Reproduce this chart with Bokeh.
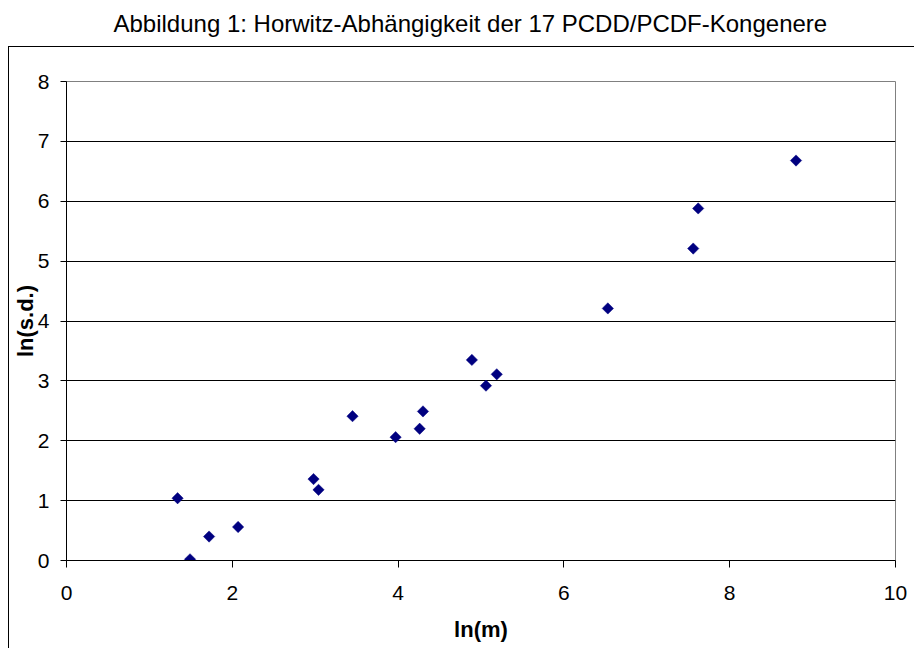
import numpy as np
from bokeh.plotting import figure
from bokeh.models import Range1d, FixedTicker, Title, ColumnDataSource
from bokeh.embed import file_html
from bokeh.resources import INLINE

# ---- data ----
title_text = "Abbildung 1: Horwitz-Abhängigkeit der 17 PCDD/PCDF-Kongenere"
x_label = "ln(m)"
y_label = "ln(s.d.)"
x_ticks = [0, 2, 4, 6, 8, 10]
y_ticks = [0, 1, 2, 3, 4, 5, 6, 7, 8]
ln_m = [1.34, 1.49, 1.72, 2.07, 2.98, 3.04, 3.45, 3.97, 4.26, 4.30,
        4.89, 5.06, 5.19, 6.53, 7.56, 7.62, 8.80]
ln_sd = [1.04, 0.02, 0.40, 0.56, 1.36, 1.18, 2.41, 2.06, 2.20, 2.49,
         3.35, 2.92, 3.11, 4.21, 5.21, 5.88, 6.68]

FONT = "Liberation Sans"

# outer chart-area border (left and top edges; right/bottom are cut off),
# painted as the page background behind a transparent border area
border_bg = ("linear-gradient(#000, #000) 8px 46px / 906px 1px no-repeat, "
             "linear-gradient(#000, #000) 8px 46px / 1px 602px no-repeat, "
             "#ffffff")

p = figure(width=914, height=648,
           x_range=Range1d(x_ticks[0], x_ticks[-1]),
           y_range=Range1d(y_ticks[0], y_ticks[-1]),
           output_backend="svg", toolbar_location=None,
           min_border_left=66, min_border_right=19,
           min_border_top=81, min_border_bottom=88,
           background_fill_color="white", border_fill_color=None,
           outline_line_color="#808080", outline_line_width=1,
           styles={"background": border_bg})

src = ColumnDataSource(dict(x=ln_m, y=ln_sd))
p.scatter("x", "y", source=src, marker="square", angle=np.pi / 4, size=8,
          fill_color="#000080", line_color="#000080", line_width=0.5)

for ax, ticks in ((p.xaxis, x_ticks), (p.yaxis, y_ticks)):
    ax.ticker = FixedTicker(ticks=ticks)
    ax.major_tick_in = 0
    ax.minor_tick_in = 0
    ax.minor_tick_out = 0
    ax.axis_line_color = "black"
    ax.major_tick_line_color = "black"
    ax.major_label_text_font = FONT
    ax.major_label_text_font_size = "21px"
    ax.major_label_text_color = "black"
    ax.axis_label_text_font = FONT
    ax.axis_label_text_font_size = "22px"
    ax.axis_label_text_font_style = "bold"
    ax.axis_label_text_color = "black"

p.xaxis.major_tick_out = 7
p.yaxis.major_tick_out = 6
p.xaxis.major_label_standoff = 18
p.yaxis.major_label_standoff = 11
p.xaxis.axis_label = x_label
p.yaxis.axis_label = y_label
p.xaxis.axis_label_standoff = 14
p.yaxis.axis_label_standoff = -3

p.xgrid.visible = False
p.ygrid.grid_line_color = "black"
p.ygrid.grid_line_width = 1

# spacer between title and plot area, then the chart title
p.add_layout(Title(text=" ", text_font_size="10px", standoff=25), "above")
p.add_layout(Title(text=title_text, align="left", offset=47,
                   vertical_align="top", standoff=10,
                   text_font=FONT, text_font_size="24px",
                   text_font_style="normal", text_color="black"), "above")

open("out.html", "w").write(file_html(p, INLINE))
